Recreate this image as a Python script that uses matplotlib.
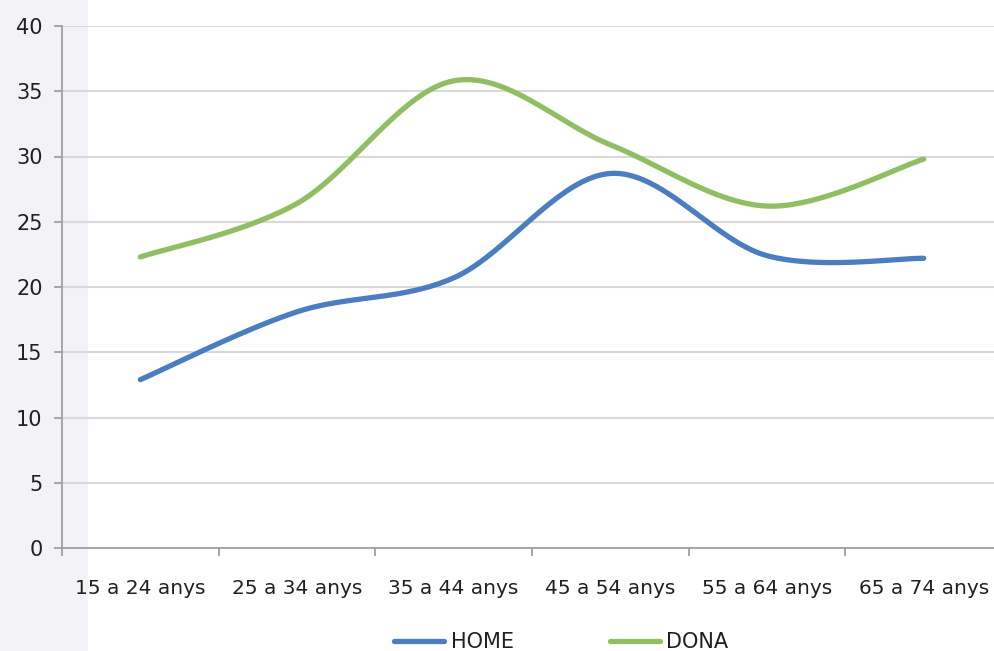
import numpy as np
import matplotlib.pyplot as plt
from matplotlib.patches import Rectangle

categories = ["15 a 24 anys", "25 a 34 anys", "35 a 44 anys",
              "45 a 54 anys", "55 a 64 anys", "65 a 74 anys"]
home = [12.9, 18.1, 20.7, 28.7, 22.4, 22.2]
dona = [22.3, 26.4, 35.8, 30.9, 26.2, 29.8]

BLUE = "#4a7ec0"
GREEN = "#8fbf62"
TEXT = "#231f20"
AXIS = "#a0a0a0"
GRID = "#d9d9d9"

plt.rcParams['font.family'] = ['DejaVu Sans']


def smooth(xs, ys, n=40):
    # excel-style smoothed line: bezier segments, control points from neighbours
    xs = np.asarray(xs, float)
    ys = np.asarray(ys, float)
    px, py = [], []
    for i in range(len(xs) - 1):
        i0 = max(i - 1, 0)
        i3 = min(i + 2, len(xs) - 1)
        p0 = np.array([xs[i], ys[i]])
        p3 = np.array([xs[i + 1], ys[i + 1]])
        c1 = p0 + (p3 - np.array([xs[i0], ys[i0]])) / 6
        c2 = p3 - (np.array([xs[i3], ys[i3]]) - p0) / 6
        t = np.linspace(0, 1, n)[:, None]
        seg = ((1 - t) ** 3 * p0 + 3 * (1 - t) ** 2 * t * c1
               + 3 * (1 - t) * t ** 2 * c2 + t ** 3 * p3)
        px.extend(seg[:, 0])
        py.extend(seg[:, 1])
    return px, py


fig = plt.figure(figsize=(9.95, 6.51), dpi=100)
fig.patches.append(Rectangle((0, 0), 88 / 995, 1, transform=fig.transFigure,
                             facecolor="#f3f2f7", edgecolor="none", zorder=-5))

ax = fig.add_axes([62 / 995, 1 - 548 / 651, 940 / 995, 522 / 651])
ax.patch.set_visible(False)

x = np.arange(len(categories)) + 0.5
hx, hy = smooth(x, home)
dx, dy = smooth(x, dona)
ax.plot(hx, hy, color=BLUE, lw=3.8, solid_capstyle="round", label="HOME", zorder=3)
ax.plot(dx, dy, color=GREEN, lw=3.8, solid_capstyle="round", label="DONA", zorder=3)

ax.set_xlim(0, len(categories))
ax.set_ylim(0, 40)
ax.set_yticks(np.arange(0, 41, 5))
ax.yaxis.grid(True, color=GRID, lw=1.5)
ax.set_axisbelow(True)

ax.set_xticks(np.arange(len(categories) + 1))
ax.set_xticklabels([])
ax.set_xticks(x, minor=True)
ax.set_xticklabels(categories, minor=True)
ax.tick_params(axis="x", which="major", length=6, width=1.3, color=AXIS, direction="out")
ax.tick_params(axis="x", which="minor", length=0, pad=22, labelsize=14.5, labelcolor=TEXT)
ax.tick_params(axis="y", length=6, width=1.3, color=AXIS, pad=8,
               labelsize=15, labelcolor=TEXT)

for s in ["top", "right"]:
    ax.spines[s].set_visible(False)
for s in ["left", "bottom"]:
    ax.spines[s].set_color(AXIS)
    ax.spines[s].set_linewidth(1.3)

leg = fig.legend(loc="center", bbox_to_anchor=(0.564, 0.014), ncol=2, frameon=False,
                 handlelength=2.4, handletextpad=0.3, columnspacing=4.6,
                 fontsize=15)
for t in leg.get_texts():
    t.set_color(TEXT)

fig.savefig("out.png", dpi=100)
